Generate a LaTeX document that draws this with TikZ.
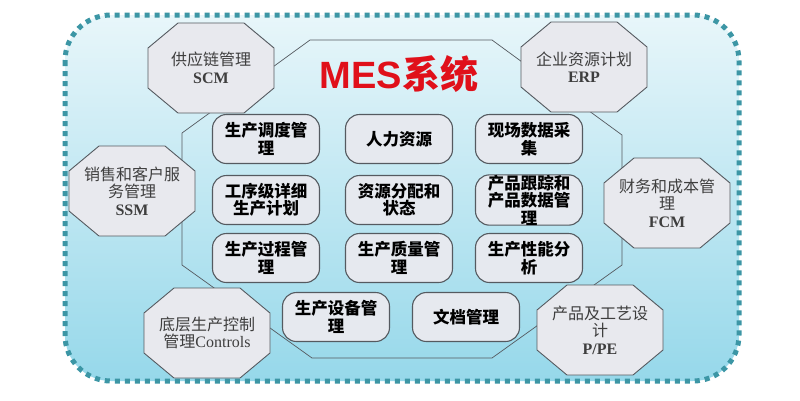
\documentclass[tikz,border=0pt]{standalone}
\usepackage{fontspec}
\setmainfont{Liberation Serif}
\newfontfamily\cjk{Noto Sans CJK SC}
\newfontfamily\titlefont{Liberation Sans}
\usetikzlibrary{shapes.misc}
\definecolor{bordercol}{HTML}{3C96A5}
\definecolor{bgtop}{HTML}{E8F6FA}
\definecolor{bgbot}{HTML}{96D8EA}
\definecolor{boxfill}{HTML}{E6E9EF}
\definecolor{octfill}{HTML}{E8E9EE}
\definecolor{linecol}{HTML}{555A60}
\definecolor{octtextcol}{HTML}{3E3E3E}
\definecolor{titlered}{HTML}{E0101A}
\tikzset{
  modbox/.style={draw=linecol, line width=1.1pt, fill=boxfill, rounded corners=14pt,
    minimum width=107pt, minimum height=49pt, align=center, inner sep=0pt,
    font=\cjk\bfseries\fontsize{16.5}{17.5}\selectfont, text=black},
  octshape/.style={draw=linecol, line width=0.9pt, fill=octfill},
  octtext/.style={align=center, inner sep=0pt, text=octtextcol,
    font=\fontsize{16}{17.5}\selectfont},
  innerline/.style={draw=linecol, line width=0.7pt}
}
\newcommand\octnode[3]{%
  \draw[octshape, shift={(#2)}] (-63,-20) -- (-33,-45) -- (33,-45) -- (63,-20) -- (63,20) -- (33,45) -- (-33,45) -- (-63,20) -- cycle;
  \node[octtext] (#1) at (#2) {#3};
}
\begin{document}
\begin{tikzpicture}[x=1pt,y=-1pt]
\useasboundingbox (0,0) rectangle (800,400);
\fill[white] (0,0) rectangle (800,400);
% outer rounded area
\shade[top color=bgtop, bottom color=bgbot, rounded corners=46pt] (65,15) rectangle (739,381);
\draw[bordercol, line width=5pt, dash pattern=on 5pt off 5pt, rounded corners=46pt] (65,15) rectangle (739,381);
% inner octagon
\draw[innerline] (182,133) -- (310,40) -- (492,40) -- (622,135) -- (622,265) -- (492,358) -- (312,358) -- (182,265) -- cycle;
% outer modules
\octnode{scm}{211,68}{{\cjk 供应链管理}\\\textbf{SCM}}
\octnode{erp}{584,67}{{\cjk 企业资源计划}\\\textbf{ERP}}
\octnode{ssm}{132,191}{{\cjk 销售和客户服}\\{\cjk 务管理}\\\textbf{SSM}}
\octnode{fcm}{667,203}{{\cjk 财务和成本管}\\{\cjk 理}\\\textbf{FCM}}
\octnode{ctl}{207,333}{{\cjk 底层生产控制}\\{\cjk 管理}Controls}
\octnode{ppe}{600,330}{{\cjk 产品及工艺设}\\{\cjk 计}\\\textbf{P/PE}}
% title
\node[text=titlered, font=\bfseries\fontsize{38}{40}\selectfont, inner sep=0pt] (title) at (399,74) {{\titlefont MES}{\cjk 系统}};
% inner modules
\node[modbox] (m11) at (266,139) {生产调度管\\理};
\node[modbox] (m12) at (399,139) {人力资源};
\node[modbox] (m13) at (529,139) {现场数据采\\集};
\node[modbox] (m21) at (266,200) {工序级详细\\生产计划};
\node[modbox] (m22) at (399,200) {资源分配和\\状态};
\node[modbox] (m23) at (529,200) {产品跟踪和\\产品数据管\\理};
\node[modbox] (m31) at (266,258) {生产过程管\\理};
\node[modbox] (m32) at (399,258) {生产质量管\\理};
\node[modbox] (m33) at (529,258) {生产性能分\\析};
\node[modbox] (m41) at (336,317) {生产设备管\\理};
\node[modbox] (m42) at (466,317) {文档管理};
\end{tikzpicture}
\end{document}
